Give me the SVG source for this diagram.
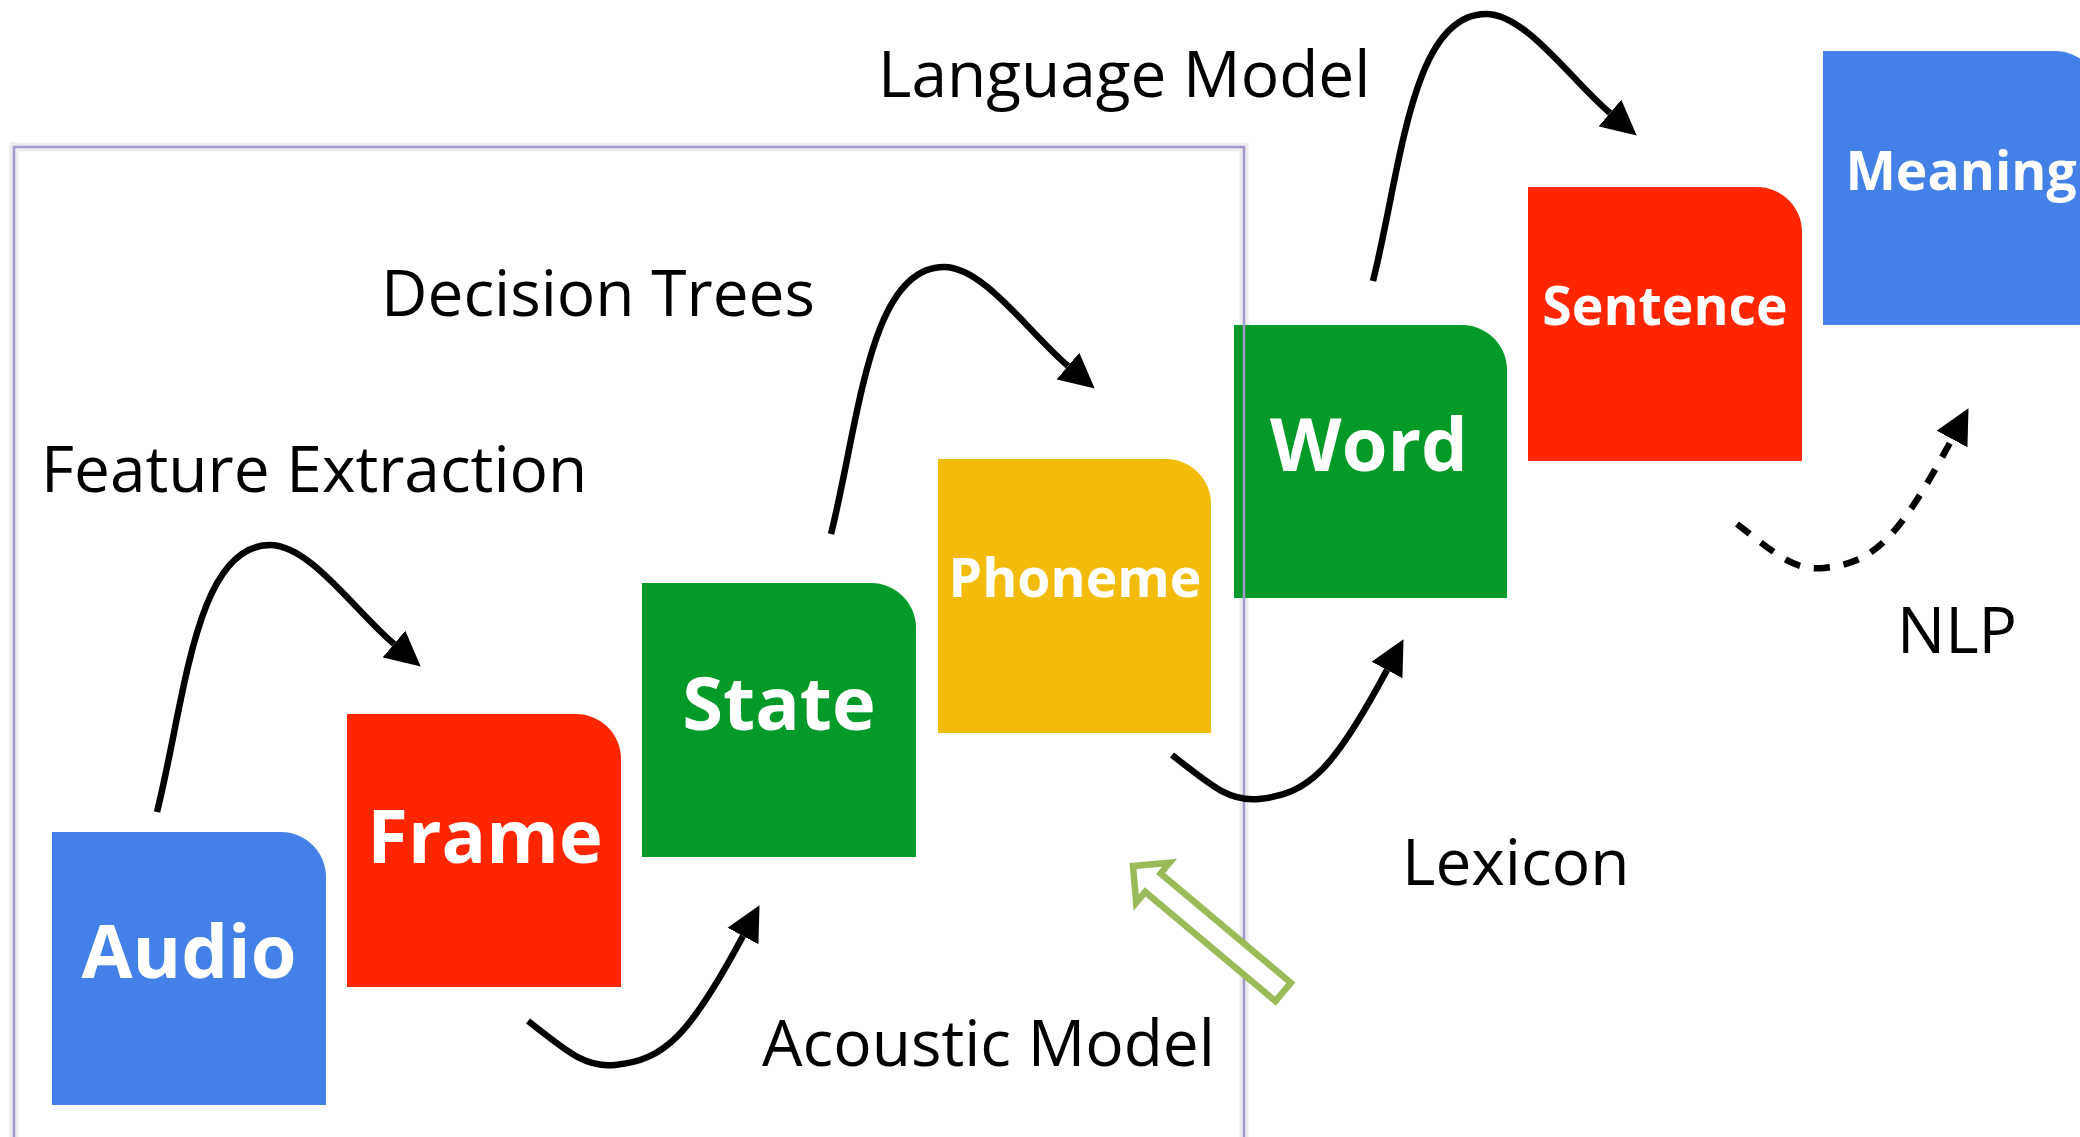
<svg xmlns="http://www.w3.org/2000/svg" width="2080" height="1137" viewBox="0 0 2080 1137">
<defs>
<style>
.lbl{font-family:"Open Sans","Liberation Sans",sans-serif;font-size:64px;fill:#000}
.big{font-family:"Open Sans","Liberation Sans",sans-serif;font-weight:700;font-size:74px;fill:#fff;text-anchor:middle}
.sm{font-family:"Open Sans","Liberation Sans",sans-serif;font-weight:700;font-size:53.5px;fill:#fff;text-anchor:middle}
.blue{fill:#4381e9}.red{fill:#ff2600}.green{fill:#039a28}.yellow{fill:#f4bc0a}
.conn{fill:none;stroke:#000;stroke-width:6.5;marker-end:url(#ah)}
.dash{stroke-dasharray:16 14}
</style>
<marker id="ah" markerUnits="userSpaceOnUse" viewBox="0 -18 36 36" refX="0" refY="0" markerWidth="36" markerHeight="36" orient="auto">
<path d="M0,-17.5 L35,0 L0,17.5 z" fill="#000"/>
</marker>
<path id="up" d="M157,812 C185,700 195,545 270,545 C310,545 355,611 394,644"/>
<path id="dn" d="M528,1021 C568,1052 585,1068 615,1065 C665,1060 690,1035 743,936"/>
</defs>
<rect width="2080" height="1137" fill="#fff"/>
<rect x="14" y="147" width="1230" height="1010" fill="none" stroke="#ececec" stroke-width="9"/>

<g id="audio"><path class="blue" d="M52,832 H281 A45,45 0 0 1 326,877 V1105 H52 Z"/><text class="big" x="189" y="978">Audio</text></g>
<g id="frame"><path class="red" d="M347,714 H576 A45,45 0 0 1 621,759 V987 H347 Z"/><text class="big" x="485" y="863">Frame</text></g>
<g id="state"><path class="green" d="M642,583 H871 A45,45 0 0 1 916,628 V857 H642 Z"/><text class="big" x="779" y="730">State</text></g>
<g id="phoneme"><path class="yellow" d="M938,459 H1166 A45,45 0 0 1 1211,504 V733 H938 Z"/><text class="sm" x="1075" y="597">Phoneme</text></g>
<g id="word"><path class="green" d="M1234,325 H1462 A45,45 0 0 1 1507,370 V598 H1234 Z"/><text class="big" x="1369" y="471">Word</text></g>
<g id="sentence"><path class="red" d="M1528,187 H1757 A45,45 0 0 1 1802,232 V461 H1528 Z"/><text class="sm" x="1665" y="325">Sentence</text></g>
<g id="meaning"><path class="blue" d="M1823,51 H2055 A45,45 0 0 1 2100,96 V325 H1823 Z"/><text class="sm" x="1961" y="190">Meaning</text></g>

<rect id="boundary" x="14" y="147" width="1230" height="1010" fill="none" stroke="#a797cf" stroke-width="2.5"/>

<g id="connectors">
<use href="#up" class="conn"/>
<use href="#up" class="conn" transform="translate(674,-278)"/>
<use href="#up" class="conn" transform="translate(1216,-531)"/>
<use href="#dn" class="conn"/>
<use href="#dn" class="conn" transform="translate(644,-266)"/>
<use href="#dn" class="conn dash" transform="translate(1209,-497)"/>
</g>

<g id="pointer">
<polygon points="0,0 26,-26 26,-12 196,-12 196,12 26,12 26,26" transform="translate(1133,866) rotate(40)" fill="#fff" stroke="#9bbb59" stroke-width="6.5"/>
</g>

<g id="labels">
<text class="lbl" x="41" y="492">Feature Extraction</text>
<text class="lbl" x="381" y="316">Decision Trees</text>
<text class="lbl" x="878" y="97">Language Model</text>
<text class="lbl" x="762" y="1066">Acoustic Model</text>
<text class="lbl" x="1402" y="885">Lexicon</text>
<text class="lbl" x="1897" y="653">NLP</text>
</g>
</svg>
